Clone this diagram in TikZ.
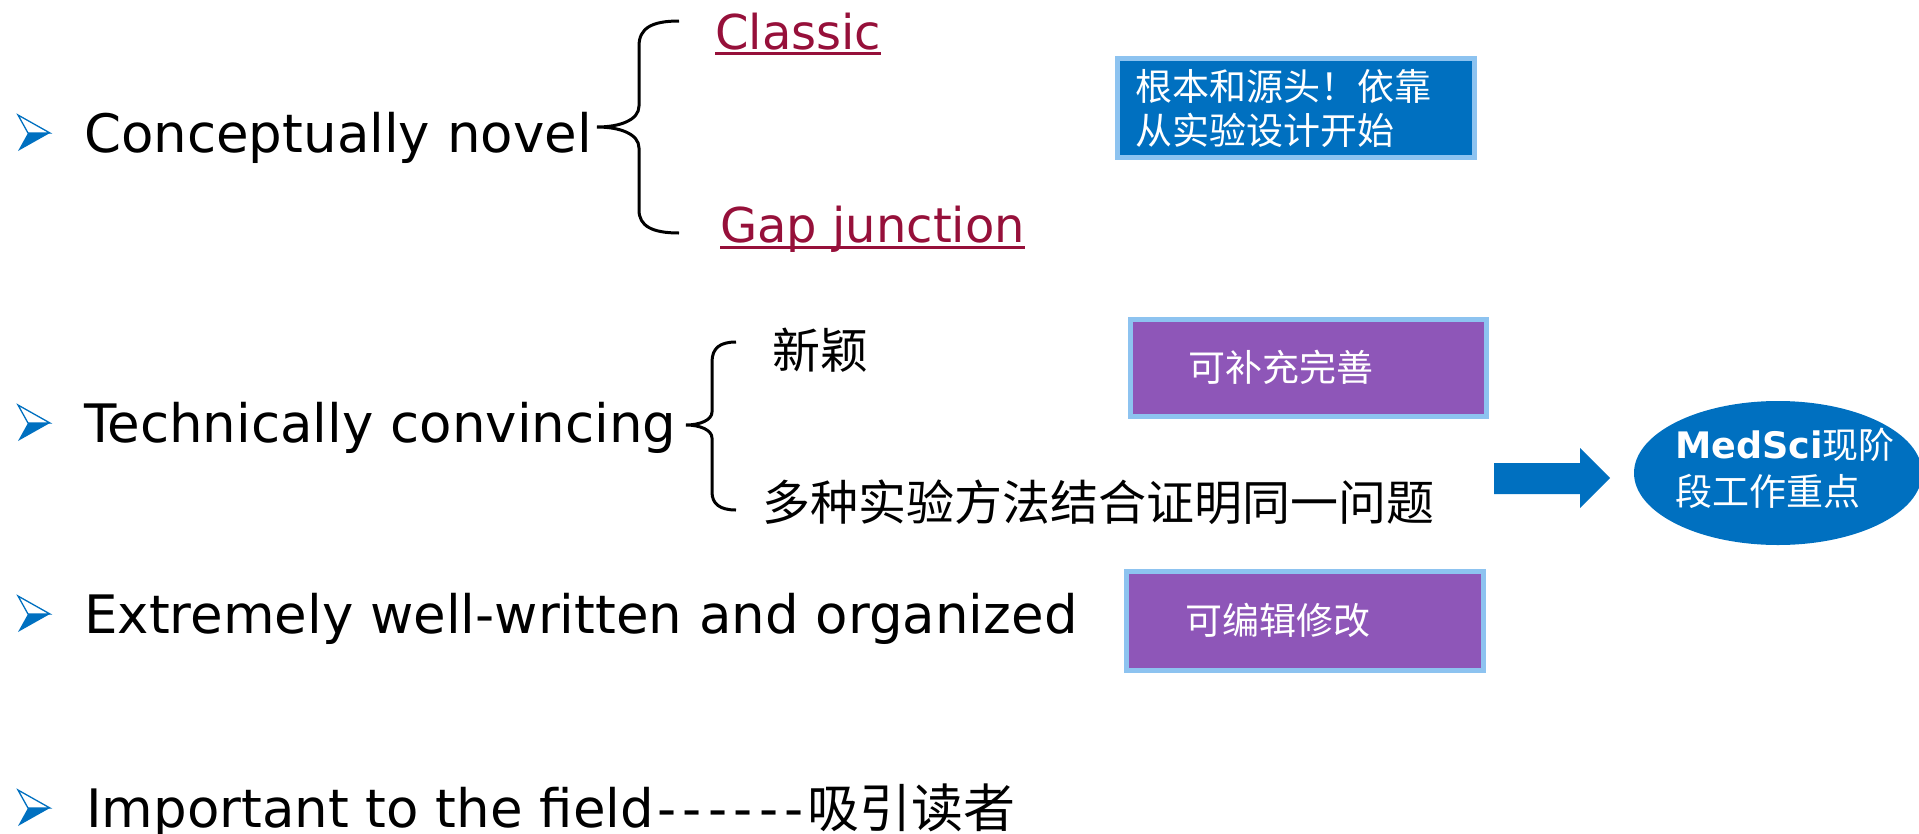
\documentclass[tikz,border=0pt]{standalone}
\usepackage{fontspec}
\setmainfont{DejaVu Sans}
\newfontfamily\cjk{Noto Sans CJK SC}
\usetikzlibrary{shapes.geometric}
\definecolor{blue0}{RGB}{0,112,192}
\definecolor{lblue}{RGB}{141,195,240}
\definecolor{purp}{RGB}{142,86,184}
\definecolor{maroon0}{RGB}{150,16,58}
\newcommand\dsh{\makebox[25.5pt]{-}}
\tikzset{
  bul/.pic={
    \filldraw[fill=white,draw=blue0,line width=1.3pt,line join=miter] (0,-18) -- (32,0) -- (10,0) -- cycle;
    \fill[blue0] (10,0) -- (32,0) -- (0,18) -- cycle;
  },
  mainline/.style={anchor=base west,inner sep=0pt,font=\fontsize{53}{60}\selectfont},
  linktext/.style={anchor=base west,inner sep=0pt,text=maroon0,font=\fontsize{48}{56}\selectfont},
  subtext/.style={anchor=base west,inner sep=0pt,font=\cjk\fontsize{48}{56}\selectfont},
  boxtext/.style={anchor=base west,inner sep=0pt,text=white,font=\cjk\fontsize{37}{44}\selectfont},
  panel/.style={draw=lblue,line width=5pt,anchor=north west,inner sep=0pt},
  bracepath/.style={line width=3pt},
  uline/.style={maroon0,line width=3pt},
}
\begin{document}
\begin{tikzpicture}[x=1pt,y=-1pt]
\useasboundingbox (0,0) rectangle (1919,833);

% bullets
\pic at (18,133) {bul};
\pic at (18,423) {bul};
\pic at (18,614) {bul};
\pic at (18,808) {bul};

% main lines
\node[mainline] (t1) at (84,152) {Conceptually novel};
\node[mainline] (t2) at (84,442) {Technically convincing};
\node[mainline] (t3) at (84,633) {Extremely well-written and organized};
\node[mainline] (t4) at (86,827) {Important to the field\dsh\dsh\dsh\dsh\dsh\dsh{\cjk\fontsize{52}{60}\selectfont 吸引读者}};

% brace 1
\draw[bracepath] (679,21) .. controls (652,21) and (639,28) .. (639,46) -- (639,106)
  .. controls (639,120) and (620,127) .. (597,127)
  .. controls (620,127) and (639,134) .. (639,148) -- (639,210)
  .. controls (639,226) and (652,233) .. (679,233);

\node[linktext] (classic) at (715,49) {Classic};
\node[linktext] (gap) at (720,242) {Gap junction};
\draw[uline] ([yshift=-4pt]classic.base west) -- ([yshift=-4pt]classic.base east);
\draw[uline] ([yshift=-5pt]gap.base west) -- ([yshift=-5pt]gap.base east);

% brace 2
\draw[bracepath] (736,342) .. controls (720,342) and (712,348) .. (712,362) -- (712,412)
  .. controls (712,420) and (700,425) .. (686,425)
  .. controls (700,425) and (712,430) .. (712,438) -- (712,492)
  .. controls (712,504) and (720,510) .. (736,510);

\node[subtext] (xin) at (772,368) {新颖};
\node[subtext] (duo) at (762,520) {多种实验方法结合证明同一问题};

% boxes
\node[panel,fill=blue0,minimum width=357pt,minimum height=99pt] (bbox) at (1114.5,55.5) {};
\node[boxtext] (bl1) at (1135,100) {根本和源头！依靠};
\node[boxtext] (bl2) at (1135,144) {从实验设计开始};

\node[panel,fill=purp,minimum width=356pt,minimum height=97pt] (pbox1) at (1127.5,316.5) {};
\node[boxtext] (pl1) at (1188,381) {可补充完善};

\node[panel,fill=purp,minimum width=357pt,minimum height=99pt] (pbox2) at (1123.5,568.5) {};
\node[boxtext] (pl2) at (1185,634) {可编辑修改};

% arrow
\fill[blue0] (1494,463) -- (1580,463) -- (1580,448) -- (1610,478) -- (1580,508) -- (1580,494) -- (1494,494) -- cycle;

% ellipse
\node[ellipse,fill=blue0,minimum width=288pt,minimum height=144pt,inner sep=0pt] (ell) at (1778,473) {};
\node[anchor=base west,inner sep=0pt,text=white] (el1) at (1675,458)
  {\fontsize{36.5}{44}\selectfont\bfseries MedSci{\cjk\mdseries\fontsize{36}{44}\selectfont 现阶}};
\node[boxtext] (el2) at (1675,505) {段工作重点};
\end{tikzpicture}
\end{document}
